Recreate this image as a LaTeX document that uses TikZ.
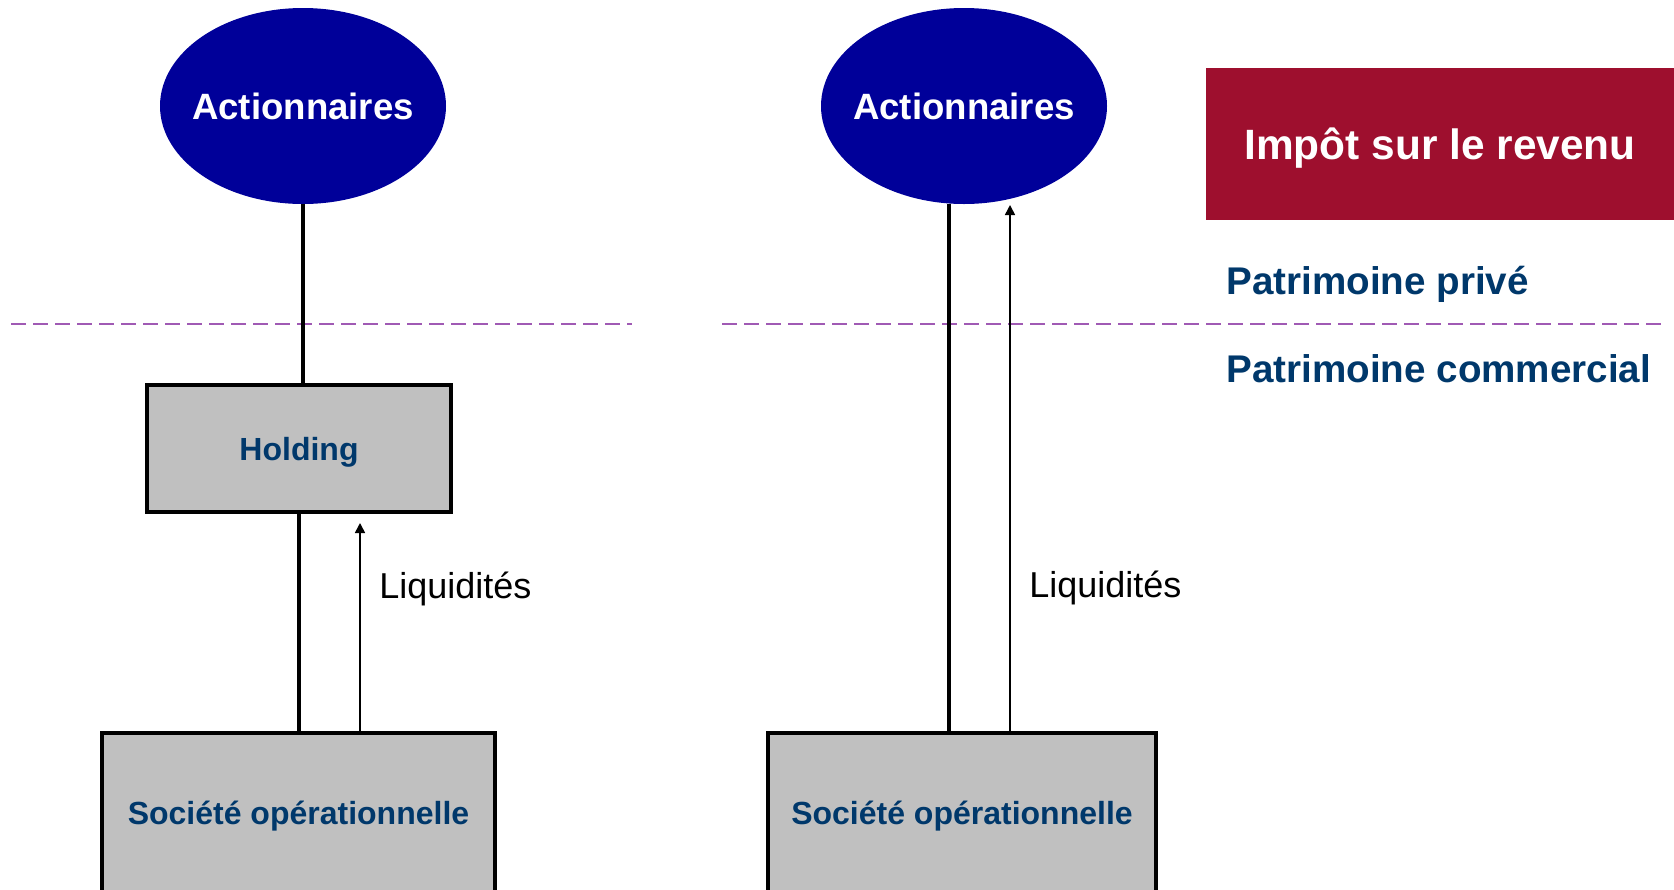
\documentclass[tikz,border=0pt]{standalone}
\usepackage{fontspec}
\setmainfont{Liberation Sans}
\usetikzlibrary{arrows.meta,shapes.geometric}
\definecolor{ellblue}{RGB}{0,0,153}
\definecolor{navy}{RGB}{0,56,107}
\definecolor{boxred}{RGB}{158,15,46}
\definecolor{boxgray}{RGB}{192,192,192}
\definecolor{dashpurple}{RGB}{160,90,180}
\tikzset{
  shareholder/.style={ellipse,fill=ellblue,draw=none,minimum width=143pt,minimum height=98pt,
    inner xsep=-8pt,inner ysep=0pt,
    text=white,font=\bfseries\fontsize{18.3}{20}\selectfont},
  graybox/.style={rectangle,fill=boxgray,draw=black,line width=1.9pt,inner sep=0pt,text depth=0pt,
    text=navy,font=\bfseries\fontsize{16}{18}\selectfont},
  thickline/.style={line width=1.8pt},
  flowarrow/.style={line width=0.8pt,-{Triangle[length=5pt,width=5pt]}},
  sepline/.style={dashpurple,line width=1pt,dash pattern=on 7.5pt off 3.5pt},
  zonelabel/.style={anchor=west,inner sep=0pt,text depth=0pt,text=navy,font=\bfseries\fontsize{19.3}{21}\selectfont},
  flowlabel/.style={anchor=west,inner sep=0pt,text depth=0pt,font=\fontsize{18}{20}\selectfont}
}
\begin{document}
\begin{tikzpicture}[x=0.5pt,y=-0.5pt]
\useasboundingbox (0,0) rectangle (1674,889);
% dashed separators
\coordinate (d1a) at (11,323.5);
\coordinate (d1b) at (632,323.5);
\coordinate (d2a) at (722,323.5);
\coordinate (d2b) at (1661,323.5);
\draw[sepline] (d1a) -- (d1b);
\draw[sepline] (d2a) -- (d2b);
% left structure
\node[shareholder] (a1) at (303,106) {Actionnaires};
\node[graybox,minimum width=152pt,minimum height=63.5pt] (hold) at (299,448.5) {Holding};
\node[graybox,minimum width=196.5pt,minimum height=80pt] (soc1) at (298.5,813) {Société opérationnelle};
\coordinate (ax1) at (360,523);
\draw[thickline] (a1.south) -- (a1.south |- hold.north);
\draw[thickline] (hold.south) -- (hold.south |- soc1.north);
\draw[flowarrow] (soc1.north -| ax1) -- (ax1);
\node[flowlabel] (liq1) at (379,585) {Liquidités};
% right structure
\node[shareholder] (a2) at (964,106) {Actionnaires};
\node[graybox,minimum width=194pt,minimum height=80pt] (soc2) at (962,813) {Société opérationnelle};
\coordinate (l2top) at (949,203.5);
\coordinate (ax2) at (1010,205);
\draw[thickline] (l2top) -- (l2top |- soc2.north);
\draw[flowarrow] (soc2.north -| ax2) -- (ax2);
\node[flowlabel] (liq2) at (1029,584) {Liquidités};
% tax box and zone labels
\node[rectangle,fill=boxred,draw=none,minimum width=234pt,minimum height=76pt,inner sep=0pt,text depth=0pt,
  text=white,font=\bfseries\fontsize{21.2}{23}\selectfont] (tax) at (1440,144) {Impôt sur le revenu};
\node[zonelabel] (priv) at (1226,280) {Patrimoine privé};
\node[zonelabel] (comm) at (1226,369) {Patrimoine commercial};
\end{tikzpicture}
\end{document}
